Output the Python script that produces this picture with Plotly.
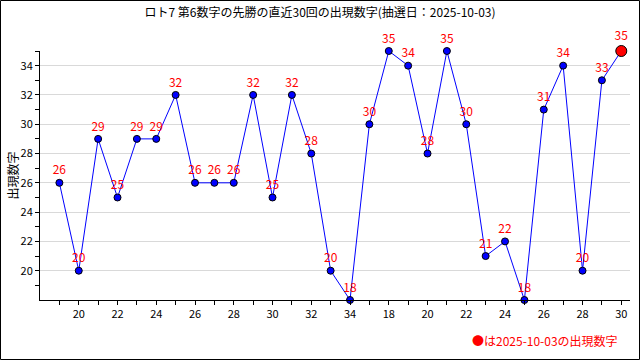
import plotly.graph_objects as go

title = "ロト7 第6数字の先勝の直近30回の出現数字(抽選日：2025-10-03)"
x_labels = ["19", "20", "21", "22", "23", "24", "25", "26", "27", "28", "29", "30", "31", "32", "33", "34",
            "17", "18", "19", "20", "21", "22", "23", "24", "25", "26", "27", "28", "29", "30"]
values = [26, 20, 29, 25, 29, 29, 32, 26, 26, 26, 32, 25, 32, 28, 20, 18,
          30, 35, 34, 28, 35, 30, 21, 22, 18, 31, 34, 20, 33, 35]
y_ticks = [20, 22, 24, 26, 28, 30, 32, 34]

xs = list(range(1, len(values) + 1))
font = "Noto Sans CJK JP"

fig = go.Figure()
fig.add_trace(go.Scatter(
    x=xs, y=values, mode="lines+markers+text",
    line=dict(color="#0000ff", width=1),
    marker=dict(color=["#0000ff"] * (len(values) - 1) + ["#ff0000"],
                size=[7] * (len(values) - 1) + [11],
                opacity=1,
                line=dict(color="black", width=1)),
    text=[str(v) for v in values], textposition="top center",
    textfont=dict(color="#ff0000", size=12, family=font),
    cliponaxis=False, showlegend=False, hoverinfo="skip"))

even_idx = [i for i in xs if i % 2 == 0]
W, H = 590, 249
fig.update_layout(
    width=640, height=360,
    paper_bgcolor="white", plot_bgcolor="white",
    margin=dict(l=40, r=10, t=51, b=60, autoexpand=False),
    font=dict(family=font, size=11, color="black"),
    title=dict(text=title, x=0.5, xanchor="center", y=0.965, yanchor="middle",
               font=dict(size=12, family=font, color="black")),
    xaxis=dict(range=[0, 30.45], tickmode="array", tickvals=even_idx,
               ticktext=[x_labels[i - 1] for i in even_idx],
               ticks="outside", ticklen=4, tickcolor="black",
               showline=True, linecolor="black", linewidth=1,
               showgrid=False, zeroline=False, automargin=False,
               minor=dict(tickvals=xs, ticks="outside", ticklen=4, tickcolor="black", showgrid=False),
               tickfont=dict(size=11)),
    yaxis=dict(range=[18, 35], tickmode="array", tickvals=y_ticks,
               ticks="outside", ticklen=4, tickcolor="black",
               showline=True, linecolor="black", linewidth=1,
               showgrid=True, gridcolor="#d9d9d9", gridwidth=1, zeroline=False, automargin=False,
               minor=dict(tickvals=list(range(19, 36, 2)), ticks="outside", ticklen=4,
                          tickcolor="black", showgrid=False),
               tickfont=dict(size=11)),
    shapes=[dict(type="rect", xref="paper", yref="paper", x0=-39.5/W, x1=1+9.5/W,
                 y0=-59.5/H, y1=1+50.5/H, line=dict(color="black", width=1))],
    annotations=[
        dict(text="●は2025-10-03の出現数字", xref="paper", yref="paper",
             x=1 - 10/W, y=-40/H, xanchor="right", yanchor="middle",
             showarrow=False, font=dict(color="#ff0000", size=12, family=font)),
        dict(text="出現数字", xref="paper", yref="paper", textangle=-90,
             x=-28/W, y=0.5, xanchor="center", yanchor="middle",
             showarrow=False, font=dict(color="black", size=12, family=font)),
    ],
)

fig.write_html("out.html", config={"displayModeBar": False},
               post_script="document.body.style.margin='0';")
